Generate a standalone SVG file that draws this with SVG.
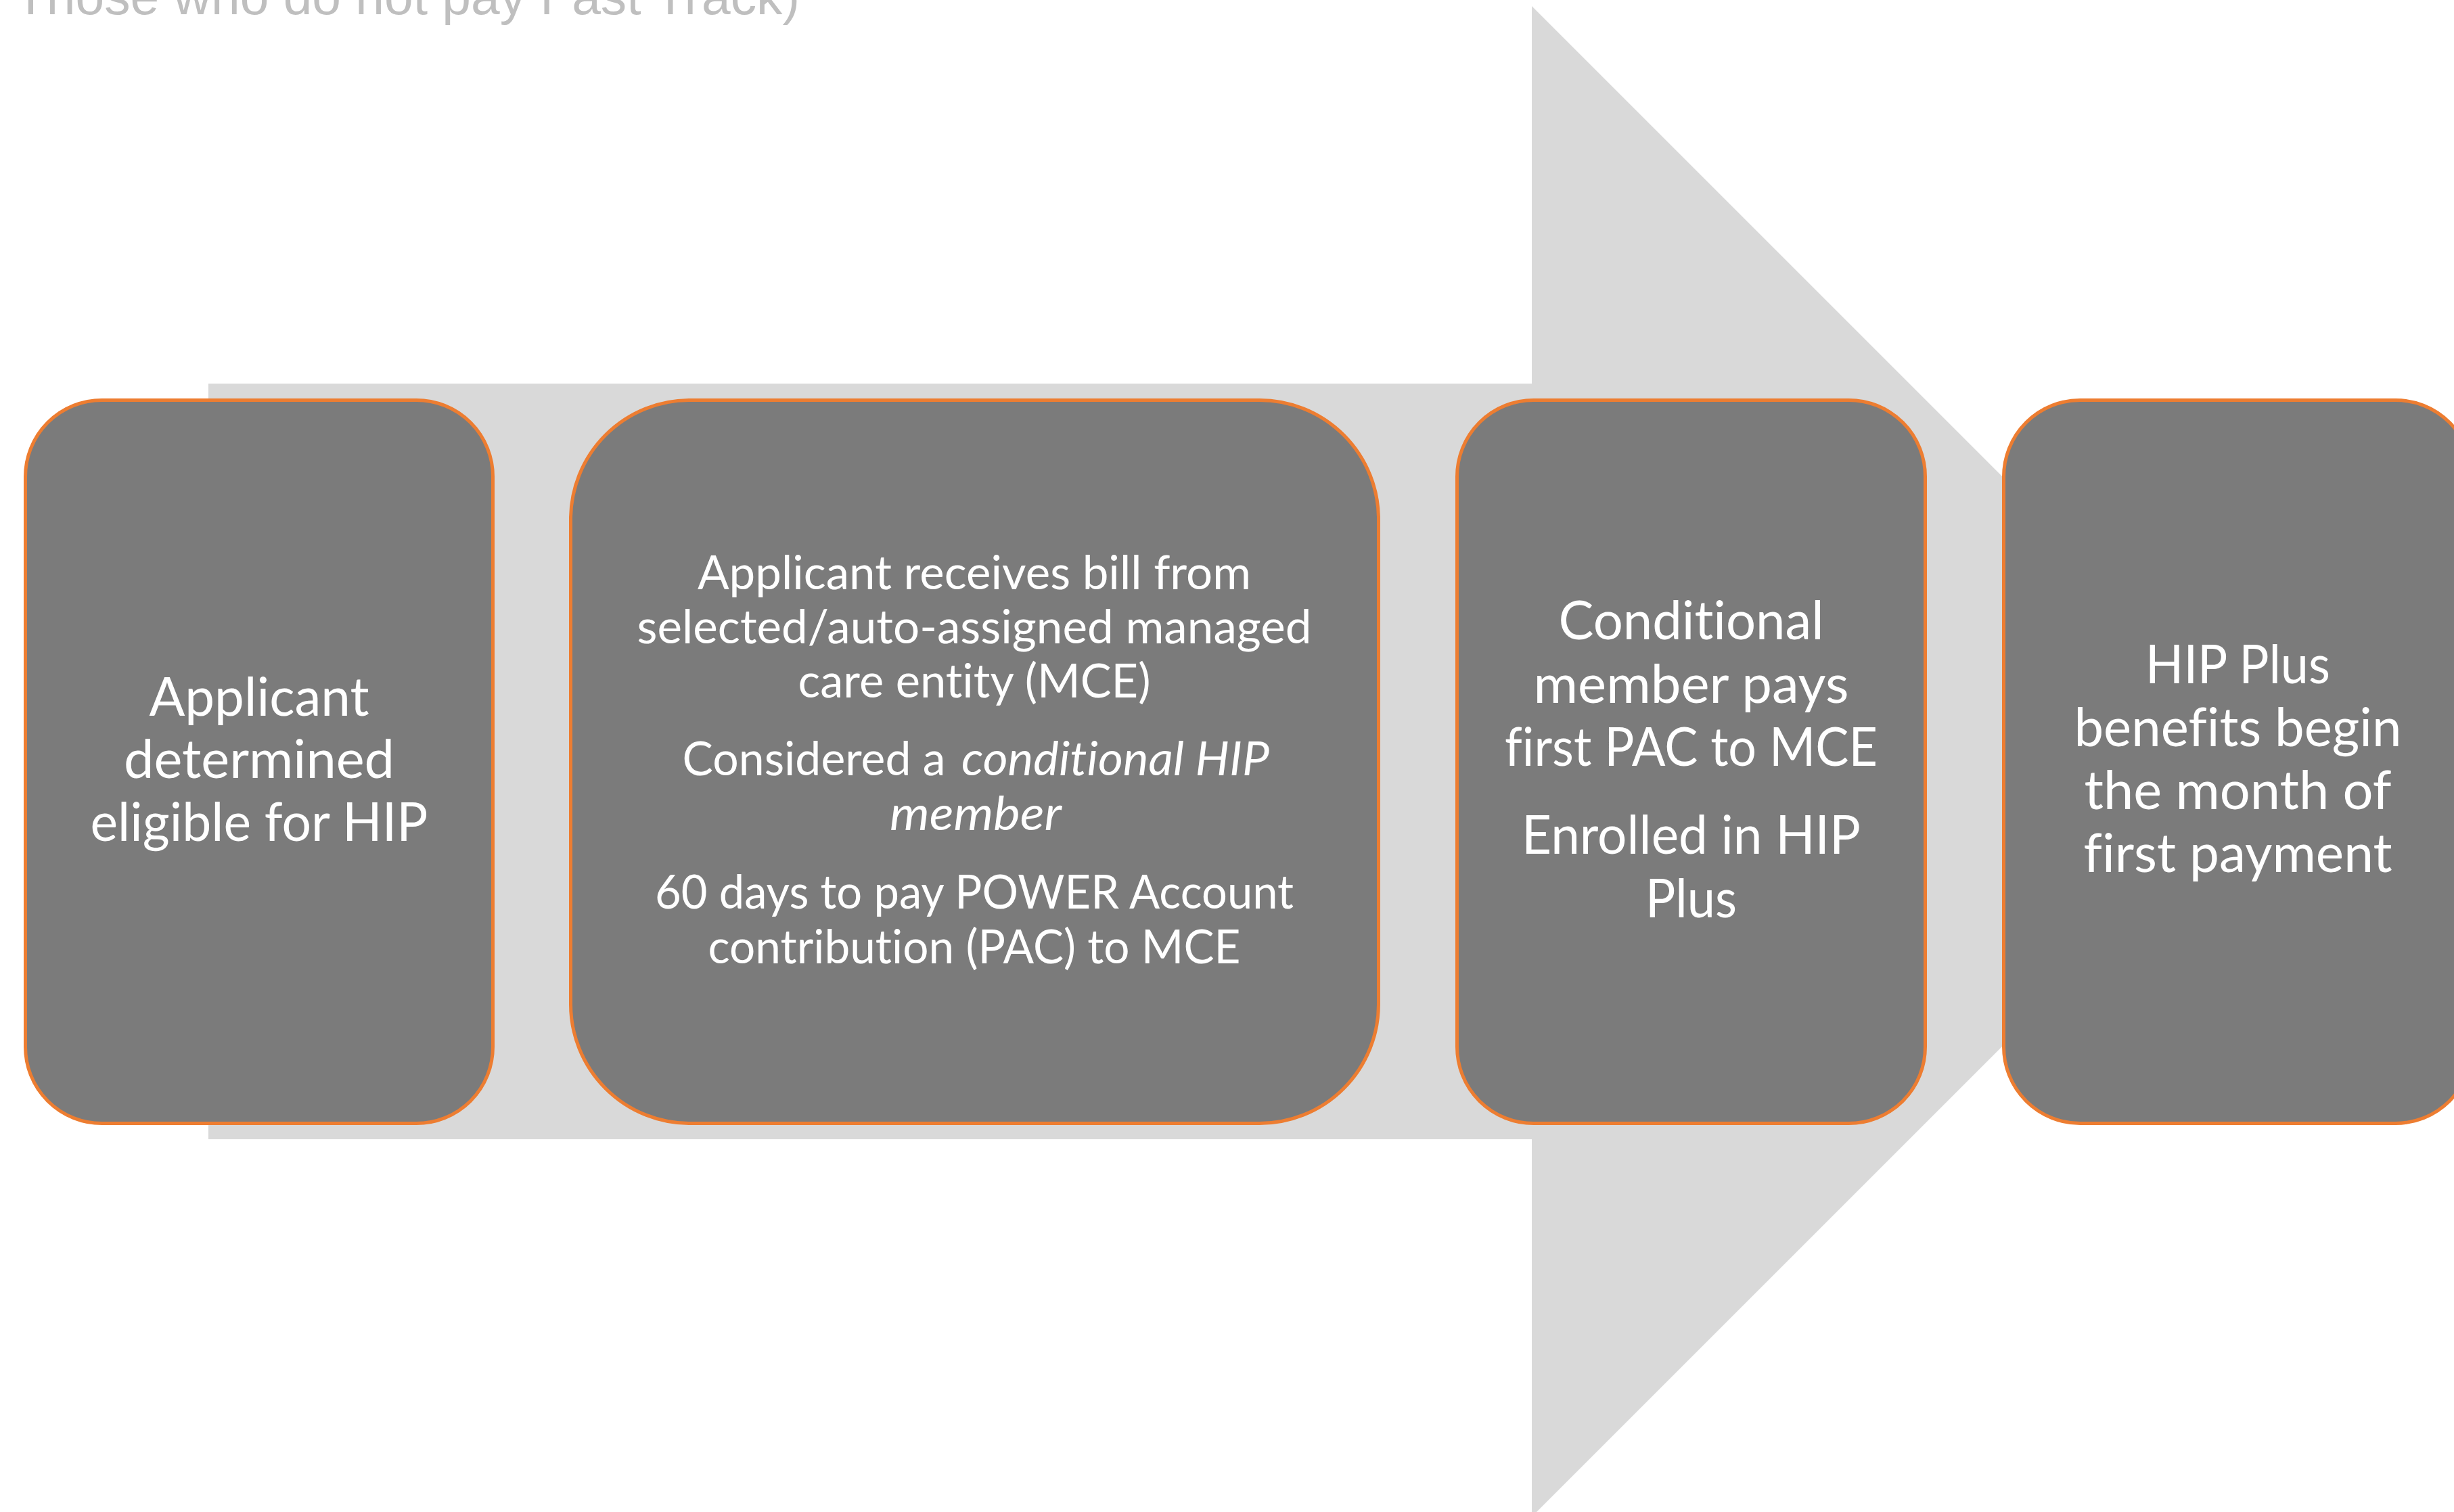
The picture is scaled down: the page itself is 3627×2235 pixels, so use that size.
<svg xmlns="http://www.w3.org/2000/svg" width="3627" height="2235" viewBox="0 0 3627 2235">
<style>
.box{fill:#7b7b7b;stroke:#ed7d31;stroke-width:5}
.t{font-family:Lato,"Open Sans","Liberation Sans",sans-serif;fill:#ffffff;text-anchor:middle;font-variant-ligatures:none}
.big{font-size:80px}
.mid{font-size:70px}
.it{font-style:italic}
.title{font-family:"Liberation Sans",Arial,sans-serif;font-size:76px;fill:#bfbfbf}
</style>
<rect width="3627" height="2235" fill="#ffffff"/>
<text class="title" x="22" y="21" textLength="1160" lengthAdjust="spacingAndGlyphs">Those who do not pay Fast Track)</text>
<g id="connectors">
<polygon id="arrow" points="308,567 2264,567 2264,9 3380.5,1125.5 2264,2242 2264,1684 308,1684" fill="#d9d9d9"/>
</g>
<g id="node1">
<rect class="box" x="37.5" y="591.5" width="691" height="1069" rx="113" ry="113"/>
<text class="t big" x="383" y="1058" textLength="325" lengthAdjust="spacingAndGlyphs">Applicant</text>
<text class="t big" x="383" y="1150" textLength="400" lengthAdjust="spacingAndGlyphs">determined</text>
<text class="t big" x="383" y="1243" textLength="499" lengthAdjust="spacingAndGlyphs">eligible for HIP</text>
</g>
<g id="node2">
<rect class="box" x="843.5" y="591.5" width="1194" height="1069" rx="176" ry="176"/>
<text class="t mid" x="1440" y="871" textLength="818" lengthAdjust="spacingAndGlyphs">Applicant receives bill from</text>
<text class="t mid" x="1440" y="951" textLength="997" lengthAdjust="spacingAndGlyphs">selected/auto-assigned managed</text>
<text class="t mid" x="1440" y="1031" textLength="521" lengthAdjust="spacingAndGlyphs">care entity (MCE)</text>
<text class="t mid" x="1008.6" y="1146" style="text-anchor:start" textLength="389" lengthAdjust="spacingAndGlyphs">Considered a</text>
<text class="t mid it" x="1421" y="1146" style="text-anchor:start" textLength="455" lengthAdjust="spacingAndGlyphs">conditional HIP</text>
<text class="t mid it" x="1442" y="1227" textLength="254" lengthAdjust="spacingAndGlyphs">member</text>
<text class="t mid" x="1440" y="1343" textLength="944" lengthAdjust="spacingAndGlyphs">60 days to pay POWER Account</text>
<text class="t mid" x="1440" y="1424" textLength="787" lengthAdjust="spacingAndGlyphs">contribution (PAC) to MCE</text>
</g>
<g id="node3">
<rect class="box" x="2153.5" y="591.5" width="692" height="1069" rx="113" ry="113"/>
<text class="t big" x="2499.5" y="945" textLength="392" lengthAdjust="spacingAndGlyphs">Conditional</text>
<text class="t big" x="2499.5" y="1039" textLength="466" lengthAdjust="spacingAndGlyphs">member pays</text>
<text class="t big" x="2499.5" y="1132" textLength="551" lengthAdjust="spacingAndGlyphs">first PAC to MCE</text>
<text class="t big" x="2499.5" y="1262" textLength="501" lengthAdjust="spacingAndGlyphs">Enrolled in HIP</text>
<text class="t big" x="2499.5" y="1356" textLength="135" lengthAdjust="spacingAndGlyphs">Plus</text>
</g>
<g id="node4">
<rect class="box" x="2961.5" y="591.5" width="692" height="1069" rx="113" ry="113"/>
<text class="t big" x="3307.5" y="1010" textLength="273" lengthAdjust="spacingAndGlyphs">HIP Plus</text>
<text class="t big" x="3307.5" y="1103" textLength="484" lengthAdjust="spacingAndGlyphs">benefits begin</text>
<text class="t big" x="3307.5" y="1196" textLength="454" lengthAdjust="spacingAndGlyphs">the month of</text>
<text class="t big" x="3307.5" y="1289" textLength="456" lengthAdjust="spacingAndGlyphs">first payment</text>
</g>
</svg>
